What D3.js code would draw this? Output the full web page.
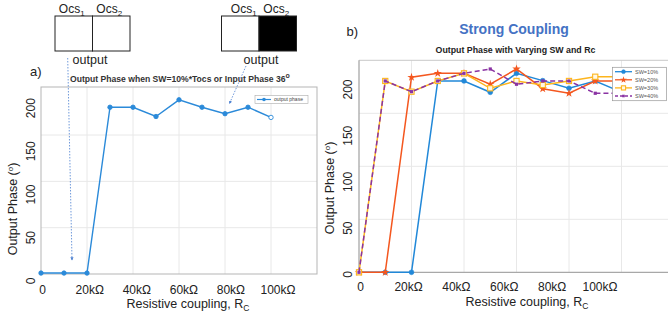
<!DOCTYPE html>
<html><head><meta charset="utf-8">
<script src="https://cdn.jsdelivr.net/npm/d3@7"></script>
<style>body{margin:0;background:#fff} svg{display:block;font-family:"Liberation Sans",Arial,sans-serif}</style>
</head><body><svg id="c" width="668" height="320"></svg>
<script>
// ---------- data ----------
const rcValues = [0,10,20,30,40,50,60,70,80,90,100];          // kΩ
const xTicks = [0,20,40,60,80,100];
const xTickLabels = ["0","20kΩ","40kΩ","60kΩ","80kΩ","100kΩ"];
const yTicks = [0,50,100,150,200];
const phaseA = [1,1,1,180,180,170,188,180,173,180,169];
const sw10 = [0,0,0,180.5,180.5,169.8,187.7,180.8,173.6,180.5,170];
const sw20 = [0,0,184,187.7,187.7,177.4,191.8,173.2,168.9,180.5,180.5];
const sw30 = [0,180.5,170.4,180.5,187.7,173.6,180.5,176.7,180.5,184.5,184.5];
const sw40 = [0,180.5,170.4,180.5,187.7,191.8,177.4,180.5,180.5,168.9,168.9];
const seriesNames = ["SW=10%","SW=20%","SW=30%","SW=40%"];
const legendA = "output phase";

const svg = d3.select("#c");
const gridC = "#e8e8e8", frameC = "#b5b5b5";

// arrow marker
const defs = svg.append("defs");
defs.append("marker").attr("id","arr").attr("viewBox","0 0 6 6").attr("refX",5).attr("refY",3)
  .attr("markerWidth",4).attr("markerHeight",4).attr("orient","auto")
  .append("path").attr("d","M0,0L6,3L0,6Z").attr("fill","#4a7fd0");
defs.append("clipPath").attr("id","clipB").append("rect").attr("x",0).attr("y",0).attr("width",668).attr("height",320);

// ---------- top diagrams ----------
function ocsBox(x0, filledRight, labelShift, outShift){
  const g = svg.append("g");
  const w = 37.5, h = 35, y0 = 16;
  g.append("rect").attr("x",x0).attr("y",y0).attr("width",w).attr("height",h).attr("fill","#fff").attr("stroke","#222").attr("stroke-width",1);
  g.append("rect").attr("x",x0+w).attr("y",y0).attr("width",w).attr("height",h).attr("fill",filledRight?"#000":"#fff").attr("stroke","#222").attr("stroke-width",1);
  [["Ocs","1"],["Ocs","2"]].forEach((t,i)=>{
    const tx = g.append("text").attr("x",x0+w/2+i*w+labelShift[i]).attr("y",12.5).attr("text-anchor","middle")
      .attr("font-size",12).attr("fill","#222");
    tx.append("tspan").text(t[0]);
    tx.append("tspan").attr("font-size",8).attr("dy",3).text(t[1]);
  });
  g.append("text").attr("x",x0+w+outShift).attr("y",63.5).attr("text-anchor","middle").attr("font-size",12.5).attr("fill","#222").text("output");
}
ocsBox(55,false,[-2,-2],-2.5);
ocsBox(221.5,true,[3.5,-1.5],2);

// ---------- chart a ----------
const xA = d3.scaleLinear([0,120],[41,317]);
const yA = d3.scaleLinear([0,200],[274,88.7]);
const xLabA = d3.scaleLinear([0,100],[42.7,278]);
const yLabA = d3.scaleLinear([0,200],[280.8,108.2]);
const gA = svg.append("g");
gA.append("rect").attr("x",xA(0)).attr("y",87).attr("width",xA(120)-xA(0)).attr("height",yA(0)-87).attr("fill","#fff");
gA.selectAll(".gvx").data([20,40,60,80,100]).join("line")
  .attr("x1",d=>xA(d)).attr("x2",d=>xA(d)).attr("y1",87).attr("y2",yA(0)).attr("stroke",gridC);
gA.selectAll(".gvy").data([50,100,150]).join("line")
  .attr("x1",xA(0)).attr("x2",xA(120)).attr("y1",d=>yA(d)).attr("y2",d=>yA(d)).attr("stroke",gridC);
gA.append("rect").attr("x",xA(0)).attr("y",87).attr("width",xA(120)-xA(0)).attr("height",yA(0)-87).attr("fill","none").attr("stroke",frameC);
gA.selectAll(".xl").data(xTicks).join("text").attr("x",(d,i)=>xLabA(d)).attr("y",293.5).attr("text-anchor","middle")
  .attr("font-size",12).attr("fill","#222").text((d,i)=>xTickLabels[i]);
gA.selectAll(".yl").data(yTicks).join("text").attr("transform",d=>`translate(31,${yLabA(d)}) rotate(-90)`)
  .attr("text-anchor","middle").attr("dy","0.35em").attr("font-size",12).attr("fill","#222").text(d=>d);
const lineA = d3.line().x((d,i)=>xA(rcValues[i])).y(d=>yA(d));
gA.append("path").datum(phaseA).attr("d",lineA).attr("fill","none").attr("stroke","#2b8ad9").attr("stroke-width",1.4);
gA.selectAll(".pt").data(phaseA).join("circle").attr("cx",(d,i)=>xA(rcValues[i])).attr("cy",d=>yA(d)).attr("r",2.2)
  .attr("fill",(d,i)=>i===phaseA.length-1?"#fff":"#2b8ad9").attr("stroke","#2b8ad9").attr("stroke-width",0.9);
// legend a
gA.append("rect").attr("x",255).attr("y",95.5).attr("width",53).attr("height",8).attr("fill","#fff").attr("stroke","#aaa").attr("stroke-width",0.6);
gA.append("line").attr("x1",257).attr("x2",271).attr("y1",99.5).attr("y2",99.5).attr("stroke","#2b8ad9").attr("stroke-width",1.2);
gA.append("circle").attr("cx",264).attr("cy",99.5).attr("r",1.8).attr("fill","#2b8ad9");
gA.append("text").attr("x",274).attr("y",101.3).attr("font-size",5).attr("fill","#444").text(legendA);
// titles a
svg.append("text").attr("x",30).attr("y",76).attr("font-size",13).attr("fill","#222").text("a)");
const tA = svg.append("text").attr("x",70).attr("y",81.5).attr("font-size",8.6).attr("font-weight","bold").attr("fill","#333");
tA.append("tspan").text("Output Phase when SW=10%*Tocs or Input Phase 36");
tA.append("tspan").attr("dy",-4).attr("font-size",7).text("o");
const yTitleA = svg.append("text").attr("transform","translate(13,209) rotate(-90)").attr("text-anchor","middle").attr("dy","0.35em").attr("font-size",12.5).attr("fill","#222");
yTitleA.append("tspan").text("Output Phase (");
yTitleA.append("tspan").attr("dy",-4).attr("font-size",8).text("o");
yTitleA.append("tspan").attr("dy",4).text(")");
const xTitleA = svg.append("text").attr("x",188).attr("y",308).attr("text-anchor","middle").attr("font-size",12.5).attr("fill","#222");
xTitleA.append("tspan").text("Resistive coupling, R");
xTitleA.append("tspan").attr("font-size",8.5).attr("dy",3).text("C");

// arrows
svg.append("line").attr("x1",67.7).attr("y1",58).attr("x2",72).attr("y2",260).attr("stroke","#4a7fd0").attr("stroke-width",0.8)
  .attr("stroke-dasharray","1.5,1.5").attr("marker-end","url(#arr)");
svg.append("line").attr("x1",246).attr("y1",66).attr("x2",229.5).attr("y2",103.5).attr("stroke","#4a7fd0").attr("stroke-width",0.8)
  .attr("stroke-dasharray","1.5,1.5").attr("marker-end","url(#arr)");

// ---------- chart b ----------
const xB = d3.scaleLinear([0,120],[359,674]);
const yB = d3.scaleLinear([0,200],[272.3,60.3]);
const xLabB = d3.scaleLinear([0,100],[360.7,600]);
const yLabB = d3.scaleLinear([0,200],[274.4,89.5]);
const gB = svg.append("g").attr("clip-path","url(#clipB)");
gB.selectAll(".gvx").data([20,40,60,80,100]).join("line")
  .attr("x1",d=>xB(d)).attr("x2",d=>xB(d)).attr("y1",yB(200)).attr("y2",yB(0)).attr("stroke",gridC);
gB.selectAll(".gvy").data([50,100,150]).join("line")
  .attr("x1",xB(0)).attr("x2",xB(120)).attr("y1",d=>yB(d)).attr("y2",d=>yB(d)).attr("stroke",gridC);
gB.append("line").attr("x1",xB(0)).attr("x2",xB(120)).attr("y1",yB(200)).attr("y2",yB(200)).attr("stroke","#c8c8c8");
gB.append("line").attr("x1",xB(0)).attr("x2",xB(120)).attr("y1",yB(0)).attr("y2",yB(0)).attr("stroke","#a8a8a8").attr("stroke-width",1.3);
gB.append("line").attr("x1",xB(0)).attr("x2",xB(0)).attr("y1",yB(200)).attr("y2",yB(0)).attr("stroke","#a8a8a8").attr("stroke-width",1.3);
svg.selectAll(".xlb").data(xTicks).join("text").attr("x",d=>xLabB(d)).attr("y",291).attr("text-anchor","middle")
  .attr("font-size",12).attr("fill","#222").text((d,i)=>xTickLabels[i]);
svg.selectAll(".ylb").data(yTicks).join("text").attr("transform",d=>`translate(347.5,${yLabB(d)}) rotate(-90)`)
  .attr("text-anchor","middle").attr("dy","0.35em").attr("font-size",12).attr("fill","#222").text(d=>d);

const colors = ["#2188d8","#f4571f","#fdb51d","#8a33a3"];
const seriesData = [sw10, sw20, sw30, sw40];
const lineB = d3.line().x((d,i)=>xB(rcValues[i])).y(d=>yB(d));
function drawMarker(g, k, cx, cy, scale){
  const s = scale||1;
  if(k===0) g.append("circle").attr("cx",cx).attr("cy",cy).attr("r",2.4*s).attr("fill",colors[0]).attr("stroke",colors[0]).attr("stroke-width",0.6);
  if(k===1) g.append("path").attr("transform",`translate(${cx},${cy})`).attr("d",d3.symbol(d3.symbolStar, 22*s*s)()).attr("fill",colors[1]);
  if(k===2) g.append("rect").attr("x",cx-2.6*s).attr("y",cy-2.6*s).attr("width",5.2*s).attr("height",5.2*s).attr("fill","#fff8e6").attr("stroke",colors[2]).attr("stroke-width",1.1);
  if(k===3) g.append("rect").attr("x",cx-1.6*s).attr("y",cy-1.6*s).attr("width",3.2*s).attr("height",3.2*s).attr("fill",colors[3]);
}
seriesData.forEach((arr,k)=>{
  gB.append("path").datum(arr).attr("d",lineB).attr("fill","none").attr("stroke",colors[k]).attr("stroke-width",1.5)
    .attr("stroke-dasharray",k===3?"5,3":null);
  arr.forEach((v,i)=>drawMarker(gB,k,xB(rcValues[i]),yB(v)));
});
// legend b
gB.append("rect").attr("x",612.5).attr("y",67.3).attr("width",54).attr("height",33.4).attr("fill","#fff").attr("stroke","#999").attr("stroke-width",0.7);
seriesNames.forEach((n,k)=>{
  const yy = 71.7 + k*8.1;
  gB.append("line").attr("x1",615).attr("x2",632).attr("y1",yy).attr("y2",yy).attr("stroke",colors[k]).attr("stroke-width",1.3)
    .attr("stroke-dasharray",k===3?"3,2":null);
  drawMarker(gB,k,623.5,yy,0.8);
  gB.append("text").attr("x",635).attr("y",yy+2).attr("font-size",5.5).attr("fill","#555").text(n);
});
// titles b
svg.append("text").attr("x",346.5).attr("y",36).attr("font-size",13).attr("fill","#222").text("b)");
svg.append("text").attr("x",514).attr("y",33.5).attr("text-anchor","middle").attr("font-size",14).attr("font-weight","bold").attr("fill","#4472c4").text("Strong Coupling");
svg.append("text").attr("x",515.5).attr("y",52.5).attr("text-anchor","middle").attr("font-size",8.8).attr("font-weight","bold").attr("fill","#222").text("Output Phase with Varying SW and Rc");
const yTitleB = svg.append("text").attr("transform","translate(330,188) rotate(-90)").attr("text-anchor","middle").attr("dy","0.35em").attr("font-size",12.5).attr("fill","#222");
yTitleB.append("tspan").text("Output Phase (");
yTitleB.append("tspan").attr("dy",-4).attr("font-size",8).text("o");
yTitleB.append("tspan").attr("dy",4).text(")");
const xTitleB = svg.append("text").attr("x",527).attr("y",306).attr("text-anchor","middle").attr("font-size",12.5).attr("fill","#222");
xTitleB.append("tspan").text("Resistive coupling, R");
xTitleB.append("tspan").attr("font-size",8.5).attr("dy",3).text("C");
</script></body></html>
